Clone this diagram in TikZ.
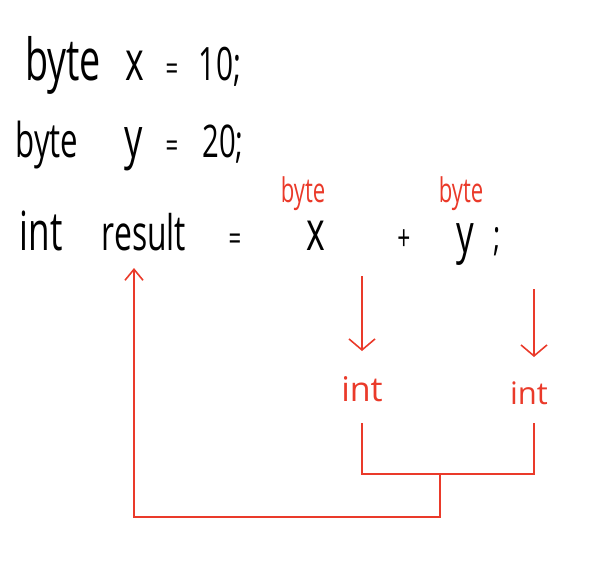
\documentclass[tikz,border=0pt]{standalone}
\usepackage{fontspec}
\setmainfont{Open Sans}
\newfontfamily\hand[FakeStretch=0.65]{Open Sans}
\newfontfamily\handw{Open Sans}
\usetikzlibrary{arrows.meta}
\definecolor{penred}{RGB}{234,58,42}
\newcommand{\fs}[1]{\fontsize{#1}{#1}\selectfont}
\tikzset{
  code/.style={anchor=base,inner sep=0pt,text=black,font=\hand\fs{52}},
  tlabel/.style={anchor=base,inner sep=0pt,text=penred,font=\hand\fs{34}},
  ilabel/.style={anchor=base,inner sep=0pt,text=penred,font=\handw\fs{33}},
  redline/.style={draw=penred,line width=1.6pt},
  redarrow/.style={redline,-{Straight Barb[length=11pt,width=26pt,line width=1.6pt]}},
  redarrowsmall/.style={redline,-{Straight Barb[length=11pt,width=18pt,line width=1.6pt]}}
}
\begin{document}
\begin{tikzpicture}[x=1pt,y=-1pt]
\useasboundingbox (0,0) rectangle (611,587);
% row 1
\node[code,font=\hand\fs{58}] (b1) at (63,80) {byte};
\node[code,font=\hand\fs{55}] (x1) at (135,80) {x};
\node[code,font=\hand\fs{34}] (e1) at (172,80) {=};
\node[code,font=\hand\fs{46}] (v1) at (220,80) {10;};
% row 2
\node[code,font=\hand\fs{48}] (b2) at (47,157) {byte};
\node[code,font=\hand\fs{56}] (y2) at (134,157) {y};
\node[code,font=\hand\fs{34}] (e2) at (172,157) {=};
\node[code,font=\hand\fs{45}] (v2) at (223,157) {20;};
% row 3
\node[code,font=\hand\fs{54}] (i3) at (41,250) {int};
\node[code,font=\hand\fs{49}] (r3) at (144,250) {result};
\node[code,font=\hand\fs{34}] (e3) at (235,250) {=};
\node[code,font=\hand\fs{55}] (x3) at (316,250) {x};
\node[code,font=\hand\fs{35}] (p3) at (404,250) {+};
\node[code,font=\hand\fs{54}] (y3) at (465,252) {y};
\node[code,font=\hand\fs{42}] (s3) at (497,250) {;};
% red type labels
\node[tlabel] (tx) at (303,202) {byte};
\node[tlabel] (ty) at (461,202) {byte};
\node[ilabel,font=\handw\fs{34}] (il) at (362,401) {int};
\node[ilabel,font=\handw\fs{31}] (ir) at (529,404) {int};
% coordinates
\coordinate (dlS) at (362,276);
\coordinate (dlE) at (362,351);
\coordinate (drS) at (534,289);
\coordinate (drE) at (534,357);
\coordinate (bl) at (362,423);
\coordinate (br) at (534,423);
\coordinate (jn) at (440,474);
\coordinate (rs) at (134,268);
% arrows
\draw[redarrow] (dlS) -- (dlE);
\draw[redarrow] (drS) -- (drE);
\draw[redline] (bl) -- (bl |- jn) -- (br |- jn) -- (br);
\draw[redarrowsmall] (jn) -- (440,517) -- (rs |- 0,517) -- (rs);
\end{tikzpicture}
\end{document}
